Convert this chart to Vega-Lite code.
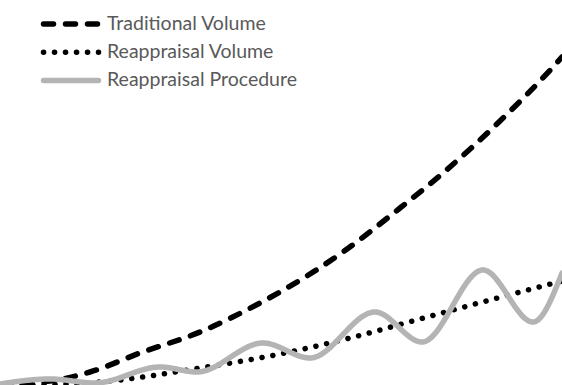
{
  "$schema": "https://vega.github.io/schema/vega-lite/v6.json",
  "autosize": {"type": "fit", "contains": "padding"},
  "width": 562,
  "height": 385,
  "padding": 0,
  "background": "white",
  "config": {"view": {"stroke": null}},
  "data": {
    "values": [
      {"series": "Traditional Volume", "x": 0, "py": 385},
      {"series": "Traditional Volume", "x": 10, "py": 383.5},
      {"series": "Traditional Volume", "x": 50, "py": 381},
      {"series": "Traditional Volume", "x": 90, "py": 372},
      {"series": "Traditional Volume", "x": 140, "py": 353},
      {"series": "Traditional Volume", "x": 200, "py": 332},
      {"series": "Traditional Volume", "x": 260, "py": 303},
      {"series": "Traditional Volume", "x": 280, "py": 292},
      {"series": "Traditional Volume", "x": 343, "py": 252},
      {"series": "Traditional Volume", "x": 400, "py": 208},
      {"series": "Traditional Volume", "x": 443, "py": 173},
      {"series": "Traditional Volume", "x": 500, "py": 121},
      {"series": "Traditional Volume", "x": 553, "py": 67},
      {"series": "Traditional Volume", "x": 562, "py": 57},
      {"series": "Reappraisal Volume", "x": 0, "py": 386},
      {"series": "Reappraisal Volume", "x": 100, "py": 382},
      {"series": "Reappraisal Volume", "x": 200, "py": 368},
      {"series": "Reappraisal Volume", "x": 285, "py": 353},
      {"series": "Reappraisal Volume", "x": 350, "py": 338},
      {"series": "Reappraisal Volume", "x": 420, "py": 319},
      {"series": "Reappraisal Volume", "x": 490, "py": 300},
      {"series": "Reappraisal Volume", "x": 562, "py": 281},
      {"series": "Reappraisal Procedure", "x": 0, "py": 384},
      {"series": "Reappraisal Procedure", "x": 50, "py": 379},
      {"series": "Reappraisal Procedure", "x": 95, "py": 383},
      {"series": "Reappraisal Procedure", "x": 160, "py": 367},
      {"series": "Reappraisal Procedure", "x": 197, "py": 372},
      {"series": "Reappraisal Procedure", "x": 263, "py": 343},
      {"series": "Reappraisal Procedure", "x": 310, "py": 358},
      {"series": "Reappraisal Procedure", "x": 375, "py": 312},
      {"series": "Reappraisal Procedure", "x": 422, "py": 342},
      {"series": "Reappraisal Procedure", "x": 483, "py": 270},
      {"series": "Reappraisal Procedure", "x": 533, "py": 322},
      {"series": "Reappraisal Procedure", "x": 562, "py": 273}
    ]
  },
  "transform": [{"calculate": "385 - datum.py", "as": "y"}],
  "mark": {"type": "line", "interpolate": "monotone", "strokeCap": "round", "clip": true},
  "encoding": {
    "x": {"field": "x", "type": "quantitative", "scale": {"domain": [0, 562], "nice": false, "zero": false}, "axis": null},
    "y": {"field": "y", "type": "quantitative", "scale": {"domain": [0, 385], "nice": false, "zero": false}, "axis": null},
    "detail": {"field": "series"},
    "color": {
      "field": "series", "type": "nominal",
      "sort": ["Traditional Volume", "Reappraisal Volume", "Reappraisal Procedure"],
      "scale": {"domain": ["Traditional Volume", "Reappraisal Volume", "Reappraisal Procedure"], "range": ["#000000", "#000000", "#b4b4b4"]},
      "legend": {
        "title": null, "orient": "none", "legendX": 58, "legendY": 11, "padding": 0,
        "symbolType": "M-2.75,0H2.75", "symbolSize": 400, "symbolStrokeWidth": 5,
        "labelFont": "Lato", "labelFontSize": 19.5, "labelColor": "#595959", "labelLimit": 400,
        "labelOffset": 23, "rowPadding": 4.2,
        "encode": {"symbols": {"update": {"strokeCap": {"value": "round"}}}}
      }
    },
    "strokeDash": {
      "field": "series", "type": "nominal",
      "sort": ["Traditional Volume", "Reappraisal Volume", "Reappraisal Procedure"],
      "scale": {"domain": ["Traditional Volume", "Reappraisal Volume", "Reappraisal Procedure"], "range": [[10, 12], [0.1, 10.9], [1, 0]]},
      "legend": {"title": null}
    },
    "strokeWidth": {
      "field": "series", "type": "nominal",
      "sort": ["Traditional Volume", "Reappraisal Volume", "Reappraisal Procedure"],
      "scale": {"domain": ["Traditional Volume", "Reappraisal Volume", "Reappraisal Procedure"], "range": [5.5, 5.5, 4]},
      "legend": {"title": null}
    }
  }
}
